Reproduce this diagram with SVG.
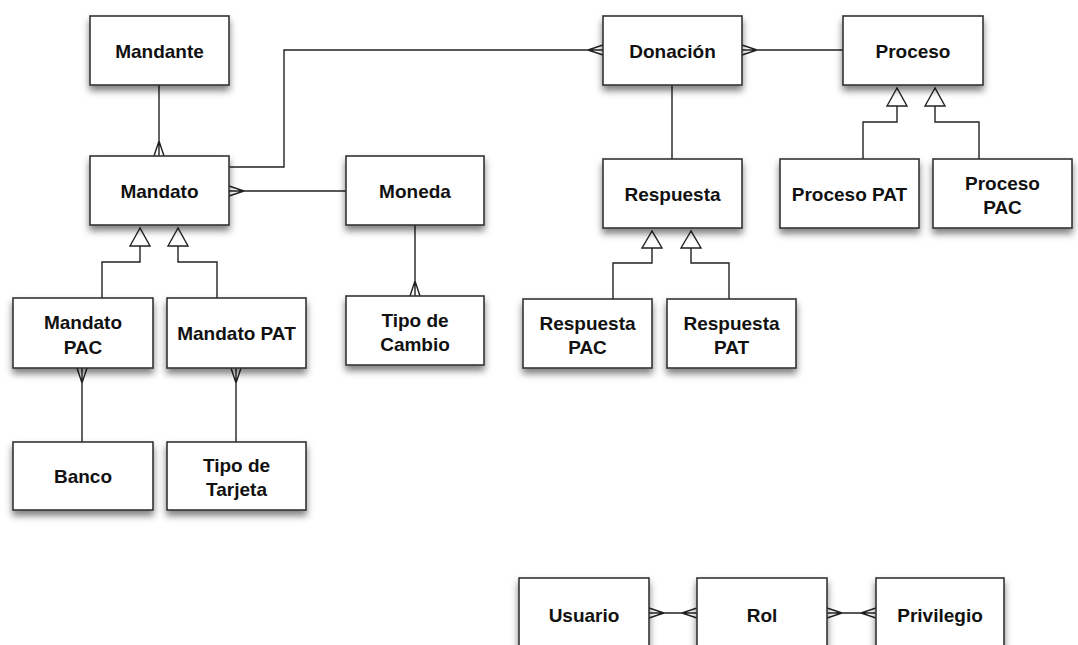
<svg xmlns="http://www.w3.org/2000/svg" width="1078" height="645" viewBox="0 0 1078 645">
<defs>
<filter id="sh" x="-10%" y="-10%" width="130%" height="145%">
<feDropShadow dx="0" dy="5" stdDeviation="3.5" flood-color="#000" flood-opacity="0.5"/>
</filter>
</defs>
<style>
.box{fill:#fff;stroke:#333;stroke-width:1.6;filter:url(#sh)}
.t{font-family:"Liberation Sans",Arial,Helvetica,sans-serif;font-weight:bold;font-size:19px;fill:#111;text-anchor:middle}
.ln{fill:none;stroke:#222;stroke-width:1.4}
.tri{fill:#fff;stroke:#222;stroke-width:1.4}
</style>
<rect width="1078" height="645" fill="#fff"/>
<g id="connectors">
<path class="ln" d="M159,85 V156 M159,141 L154,156 M159,141 L164,156"/>
<path class="ln" d="M229,167 H284 V50 H603 M588,50 L603,45 M588,50 L603,55"/>
<path class="ln" d="M229,191 H346 M244,191 L229,186 M244,191 L229,196"/>
<path class="ln" d="M415,225 V296 M415,281 L410,296 M415,281 L420,296"/>
<path class="ln" d="M742,50 H843 M757,50 L742,45 M757,50 L742,55"/>
<path class="ln" d="M672,85 V159"/>
<path class="ln" d="M140,246 V262 H102 V298 M178,246 V262 H217 V298"/>
<polygon class="tri" points="140,228 130,246 150,246"/>
<polygon class="tri" points="178,228 168,246 188,246"/>
<path class="ln" d="M897,106 V122 H863 V159 M935,106 V122 H979 V159"/>
<polygon class="tri" points="897,88 887,106 907,106"/>
<polygon class="tri" points="935,88 925,106 945,106"/>
<path class="ln" d="M652,248 V263 H613 V299 M691,248 V263 H729 V299"/>
<polygon class="tri" points="652,231 642,248 662,248"/>
<polygon class="tri" points="691,231 681,248 701,248"/>
<path class="ln" d="M82,368 V442 M82,383 L77,368 M82,383 L87,368"/>
<path class="ln" d="M236,368 V442 M236,383 L231,368 M236,383 L241,368"/>
<path class="ln" d="M649,613 H697 M664,613 L649,608 M664,613 L649,618 M682,613 L697,608 M682,613 L697,618"/>
<path class="ln" d="M827,613 H876 M842,613 L827,608 M842,613 L827,618 M861,613 L876,608 M861,613 L876,618"/>
</g>
<g id="mandante"><rect class="box" x="90" y="16" width="139" height="69"/><text class="t" x="159.5" y="58">Mandante</text></g>
<g id="mandato"><rect class="box" x="90" y="156" width="139" height="69"/><text class="t" x="159.5" y="198">Mandato</text></g>
<g id="moneda"><rect class="box" x="346" y="156" width="138" height="69"/><text class="t" x="415" y="198">Moneda</text></g>
<g id="donacion"><rect class="box" x="603" y="16" width="139" height="69"/><text class="t" x="672.5" y="58">Donación</text></g>
<g id="proceso"><rect class="box" x="843" y="16" width="140" height="69"/><text class="t" x="913" y="58">Proceso</text></g>
<g id="respuesta"><rect class="box" x="603" y="159" width="139" height="69"/><text class="t" x="672.5" y="201">Respuesta</text></g>
<g id="proceso-pat"><rect class="box" x="780" y="159" width="139" height="69"/><text class="t" x="849.5" y="201">Proceso PAT</text></g>
<g id="proceso-pac"><rect class="box" x="933" y="159" width="139" height="69"/><text class="t" x="1002.5" y="190">Proceso</text><text class="t" x="1002.5" y="214">PAC</text></g>
<g id="mandato-pac"><rect class="box" x="13" y="298" width="140" height="70"/><text class="t" x="83" y="329">Mandato</text><text class="t" x="83" y="354">PAC</text></g>
<g id="mandato-pat"><rect class="box" x="167" y="298" width="139" height="70"/><text class="t" x="236.5" y="340">Mandato PAT</text></g>
<g id="tipo-cambio"><rect class="box" x="346" y="296" width="138" height="69"/><text class="t" x="415" y="327">Tipo de</text><text class="t" x="415" y="351">Cambio</text></g>
<g id="respuesta-pac"><rect class="box" x="523" y="299" width="129" height="69"/><text class="t" x="587.5" y="330">Respuesta</text><text class="t" x="587.5" y="354">PAC</text></g>
<g id="respuesta-pat"><rect class="box" x="667" y="299" width="129" height="69"/><text class="t" x="731.5" y="330">Respuesta</text><text class="t" x="731.5" y="354">PAT</text></g>
<g id="banco"><rect class="box" x="13" y="442" width="140" height="68"/><text class="t" x="83" y="483">Banco</text></g>
<g id="tipo-tarjeta"><rect class="box" x="167" y="442" width="139" height="68"/><text class="t" x="236.5" y="472">Tipo de</text><text class="t" x="236.5" y="496">Tarjeta</text></g>
<g id="usuario"><rect class="box" x="519" y="578" width="130" height="80"/><text class="t" x="584" y="622">Usuario</text></g>
<g id="rol"><rect class="box" x="697" y="578" width="130" height="80"/><text class="t" x="762" y="622">Rol</text></g>
<g id="privilegio"><rect class="box" x="876" y="578" width="128" height="80"/><text class="t" x="940" y="622">Privilegio</text></g>
</svg>
